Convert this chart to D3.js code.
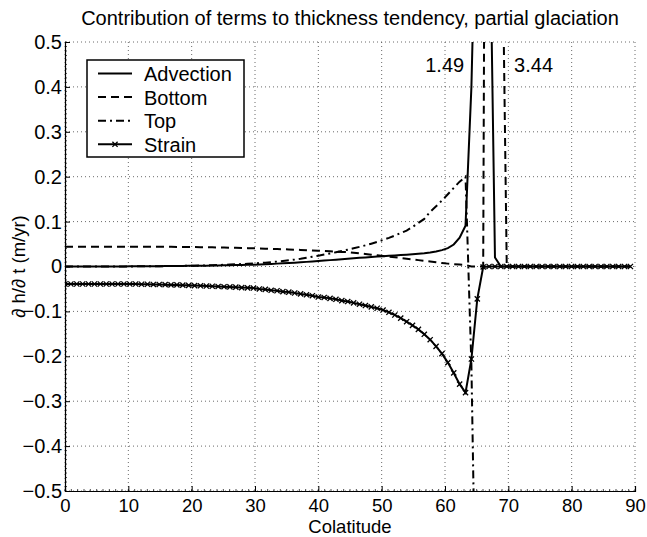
<!DOCTYPE html>
<html>
<head>
<meta charset="utf-8">
<script src="https://cdn.jsdelivr.net/npm/d3@7"></script>
<style>
  html, body { margin: 0; padding: 0; background: #fff; }
  svg text { font-family: "Liberation Sans", Arial, Helvetica, sans-serif; fill: #000; }
</style>
</head>
<body>
<svg id="chart" width="647" height="537"></svg>
<script>
// Model grid (colatitude, degrees)
const colatitude = [0, 0.93, 1.86, 2.79, 3.72, 4.65, 5.58, 6.51, 7.44, 8.37, 9.3, 10.23, 11.16, 12.09, 13.02, 13.95, 14.88, 15.81, 16.74, 17.67,
  18.6, 19.53, 20.46, 21.39, 22.32, 23.25, 24.18, 25.11, 26.04, 26.97, 27.9, 28.83, 29.76, 30.69, 31.62, 32.55, 33.48, 34.41, 35.34, 36.27,
  37.2, 38.13, 39.06, 39.99, 40.92, 41.85, 42.78, 43.71, 44.64, 45.57, 46.5, 47.43, 48.36, 49.29, 50.22, 51.15, 52.08, 53.01, 53.94, 54.87,
  55.8, 56.73, 57.66, 58.59, 59.52, 60.45, 61.38, 62.31, 63.24, 64.17, 65.1, 66.03, 66.96, 67.89, 68.82, 69.75, 70.68, 71.61, 72.54, 73.47,
  74.4, 75.33, 76.26, 77.19, 78.12, 79.05, 79.98, 80.91, 81.84, 82.77, 83.7, 84.63, 85.56, 86.49, 87.42, 88.35, 89.28];

// Thickness tendency terms (m/yr)
const advectionTerm = [0, 0, 0, 0, 0, 0, 0, 0, 0, 0, 0, 0.0005, 0.0005, 0.0005, 0.0006, 0.0007, 0.0008, 0.0009, 0.001, 0.0011,
  0.0012, 0.0014, 0.0015, 0.0017, 0.0019, 0.0021, 0.0023, 0.0026, 0.0029, 0.0032, 0.0035, 0.0038, 0.004, 0.0045, 0.0052, 0.0058, 0.0064, 0.0071, 0.0078, 0.0086,
  0.0094, 0.0103, 0.0112, 0.0122, 0.0132, 0.0142, 0.0152, 0.0163, 0.0174, 0.0184, 0.0193, 0.0202, 0.0211, 0.022, 0.0229, 0.0237, 0.0245, 0.0254, 0.0263, 0.0273,
  0.0284, 0.0297, 0.0313, 0.0335, 0.0365, 0.041, 0.049, 0.064, 0.091, 0.40, 0.95, 1.49, 0.90, 0.02, 0, 0, 0, 0, 0, 0,
  0, 0, 0, 0, 0, 0, 0, 0, 0, 0, 0, 0, 0, 0, 0, 0, 0];

const bottomTerm = [0.044, 0.044, 0.044, 0.044, 0.044, 0.044, 0.044, 0.044, 0.044, 0.044, 0.044, 0.044, 0.044, 0.044, 0.044, 0.044, 0.044, 0.0439, 0.0438, 0.0437,
  0.0436, 0.0435, 0.0433, 0.0431, 0.0429, 0.0427, 0.0424, 0.0421, 0.0418, 0.0415, 0.0412, 0.0409, 0.0405, 0.0401, 0.0397, 0.0393, 0.0389, 0.0384, 0.0379, 0.0374,
  0.0369, 0.0363, 0.0357, 0.0351, 0.0345, 0.0338, 0.0331, 0.0324, 0.032, 0.0306, 0.0292, 0.0278, 0.0264, 0.025, 0.0235, 0.022, 0.0205, 0.019, 0.0174, 0.0158,
  0.0142, 0.0126, 0.011, 0.0094, 0.0078, 0.0064, 0.0052, 0.0042, 0.0034, 0, 0, 0, 3.44, 1.9, 1.0, 0, 0, 0, 0, 0,
  0, 0, 0, 0, 0, 0, 0, 0, 0, 0, 0, 0, 0, 0, 0, 0, 0];

const topTerm = [0, 0, 0, 0, 0, 0, 0, 0, 0, 0, 0, 0.0002, 0.0003, 0.0004, 0.0005, 0.0006, 0.0007, 0.0008, 0.001, 0.0012,
  0.0014, 0.0016, 0.0019, 0.0022, 0.0025, 0.0029, 0.0033, 0.0038, 0.0043, 0.0049, 0.0055, 0.0061, 0.0068, 0.0076, 0.0086, 0.0097, 0.0109, 0.0122, 0.0137, 0.0153,
  0.0171, 0.0193, 0.0217, 0.024, 0.0265, 0.029, 0.0317, 0.0345, 0.0375, 0.0405, 0.0437, 0.0471, 0.0508, 0.0548, 0.0591, 0.0638, 0.0689, 0.0745, 0.080, 0.088,
  0.097, 0.106, 0.122, 0.134, 0.147, 0.161, 0.175, 0.189, 0.200, -0.22, -1.0, null, null, null, null, null, null, null, null, null,
  null, null, null, null, null, null, null, null, null, null, null, null, null, null, null, null, null];

const strainTerm = [-0.039, -0.039, -0.039, -0.039, -0.039, -0.039, -0.039, -0.039, -0.039, -0.039, -0.039, -0.039, -0.039, -0.0395, -0.0395, -0.040, -0.040, -0.0405, -0.041, -0.041,
  -0.0415, -0.042, -0.0425, -0.043, -0.0435, -0.044, -0.0445, -0.045, -0.0455, -0.046, -0.047, -0.0475, -0.048, -0.050, -0.051, -0.053, -0.054, -0.056, -0.057, -0.059,
  -0.061, -0.063, -0.065, -0.068, -0.069, -0.071, -0.073, -0.076, -0.078, -0.081, -0.084, -0.087, -0.090, -0.093, -0.097, -0.102, -0.108, -0.115, -0.123, -0.131,
  -0.140, -0.151, -0.163, -0.178, -0.194, -0.214, -0.237, -0.262, -0.281, -0.206, -0.072, -0.001, 0, 0, 0, 0, 0, 0, 0, 0,
  0, 0, 0, 0, 0, 0, 0, 0, 0, 0, 0, 0, 0, 0, 0, 0, 0];

const seriesNames = ["Advection", "Bottom", "Top", "Strain"];
const xTicks = [0, 10, 20, 30, 40, 50, 60, 70, 80, 90];
const yTicks = [-0.5, -0.4, -0.3, -0.2, -0.1, 0, 0.1, 0.2, 0.3, 0.4, 0.5];
const peakLabels = [{ text: "1.49", series: "Advection" }, { text: "3.44", series: "Bottom" }];

const FONT = 20;
const svg = d3.select("#chart");
const margin = { left: 65, right: 12, top: 42, bottom: 46 };
const W = 647, H = 537;
const x = d3.scaleLinear().domain([0, 90]).range([margin.left, W - margin.right]);
const y = d3.scaleLinear().domain([-0.5, 0.5]).range([H - margin.bottom, margin.top]);

svg.append("defs").append("clipPath").attr("id", "plotclip")
  .append("rect").attr("x", x(0)).attr("y", y(0.5)).attr("width", x(90) - x(0)).attr("height", y(-0.5) - y(0.5));

// dotted grid
const grid = svg.append("g").attr("stroke", "#444").attr("stroke-width", 0.8).attr("stroke-dasharray", "1,3");
xTicks.forEach(t => grid.append("line").attr("x1", x(t)).attr("x2", x(t)).attr("y1", y(-0.5)).attr("y2", y(0.5)));
yTicks.forEach(t => grid.append("line").attr("x1", x(0)).attr("x2", x(90)).attr("y1", y(t)).attr("y2", y(t)));

// axes with inward ticks
const xAxis = svg.append("g").attr("transform", `translate(0,${y(-0.5)})`)
  .call(d3.axisBottom(x).tickValues(xTicks).tickSize(-5).tickPadding(8).tickFormat(d3.format("d")));
const yAxis = svg.append("g").attr("transform", `translate(${x(0)},0)`)
  .call(d3.axisLeft(y).tickValues(yTicks).tickSize(-5).tickPadding(3).tickFormat(d => d === 0 ? "0" : d3.format(".1f")(d).replace("-", "\u2212")));
[xAxis, yAxis].forEach(a => {
  a.select(".domain").attr("stroke", "#000").attr("stroke-width", 1.2);
  a.selectAll(".tick line").attr("stroke", "#000");
  a.selectAll("text").attr("font-size", FONT).attr("fill", "#000");
});
xAxis.selectAll(".tick text").attr("dy", "0.71em").attr("font-size", 18.5);
// minor ticks
svg.append("g").selectAll("line").data(d3.range(0, 91, 1)).join("line")
  .attr("x1", d => x(d)).attr("x2", d => x(d)).attr("y1", y(-0.5)).attr("y2", y(-0.5) - 2)
  .attr("stroke", "#000").attr("stroke-width", 0.7);
svg.append("g").selectAll("line").data(d3.range(-50, 51, 1)).join("line")
  .attr("x1", x(0)).attr("x2", x(0) + 2).attr("y1", d => y(d / 100)).attr("y2", d => y(d / 100))
  .attr("stroke", "#000").attr("stroke-width", 0.7);

// curves
const plot = svg.append("g").attr("clip-path", "url(#plotclip)");
const styles = {
  Advection: { values: advectionTerm, dash: null },
  Bottom: { values: bottomTerm, dash: "8,5" },
  Top: { values: topTerm, dash: "8,4,2,4" },
  Strain: { values: strainTerm, dash: null }
};
const line = d3.line().defined(d => d[1] !== null).x(d => x(d[0])).y(d => y(d[1]));
seriesNames.forEach(name => {
  const pts = colatitude.map((c, i) => [c, styles[name].values[i]]);
  plot.append("path").attr("d", line(pts)).attr("fill", "none").attr("stroke", "#000")
    .attr("stroke-width", 2).attr("stroke-dasharray", styles[name].dash);
});
const cross = (g, cx, cy, r) => {
  g.append("path").attr("d", `M${cx - r},${cy - r}L${cx + r},${cy + r}M${cx - r},${cy + r}L${cx + r},${cy - r}`)
    .attr("stroke", "#000").attr("stroke-width", 1.3).attr("fill", "none");
};
const markers = plot.append("g");
colatitude.forEach((c, i) => cross(markers, x(c), y(strainTerm[i]), 2.6));

// peak value labels for off-scale spikes
const peakPos = peakLabels.map(p => {
  const vals = styles[p.series].values;
  const idx = d3.maxIndex(vals);
  return { text: p.text, cx: x(colatitude[idx]) };
});
svg.append("text").attr("x", peakPos[0].cx - 19).attr("y", 72).attr("text-anchor", "end").attr("font-size", FONT).text(peakPos[0].text);
svg.append("text").attr("x", peakPos[1].cx + 25).attr("y", 72).attr("text-anchor", "start").attr("font-size", FONT).text(peakPos[1].text);

// title and axis labels
svg.append("text").attr("x", (x(0) + x(90)) / 2).attr("y", 25).attr("text-anchor", "middle").attr("font-size", FONT)
  .text("Contribution of terms to thickness tendency, partial glaciation");
svg.append("text").attr("x", (x(0) + x(90)) / 2).attr("y", 533).attr("text-anchor", "middle").attr("font-size", 18.5).text("Colatitude");
svg.append("text").attr("transform", `translate(25,${(y(0.5) + y(-0.5)) / 2}) rotate(-90)`).attr("text-anchor", "middle")
  .attr("font-size", 18.5).text("\u2202 h/\u2202 t (m/yr)");

// legend
const lg = svg.append("g");
lg.append("rect").attr("x", 87).attr("y", 60).attr("width", 157).attr("height", 97)
  .attr("fill", "#fff").attr("stroke", "#000").attr("stroke-width", 1.5);
seriesNames.forEach((name, i) => {
  const cy = 73.5 + i * 23.6;
  lg.append("line").attr("x1", 98).attr("x2", 132).attr("y1", cy).attr("y2", cy)
    .attr("stroke", "#000").attr("stroke-width", 2).attr("stroke-dasharray", styles[name].dash);
  if (name === "Strain") cross(lg, 115, cy, 2.6);
  lg.append("text").attr("x", 144).attr("y", cy + 7.5).attr("font-size", FONT).text(name);
});
</script>
</body>
</html>
